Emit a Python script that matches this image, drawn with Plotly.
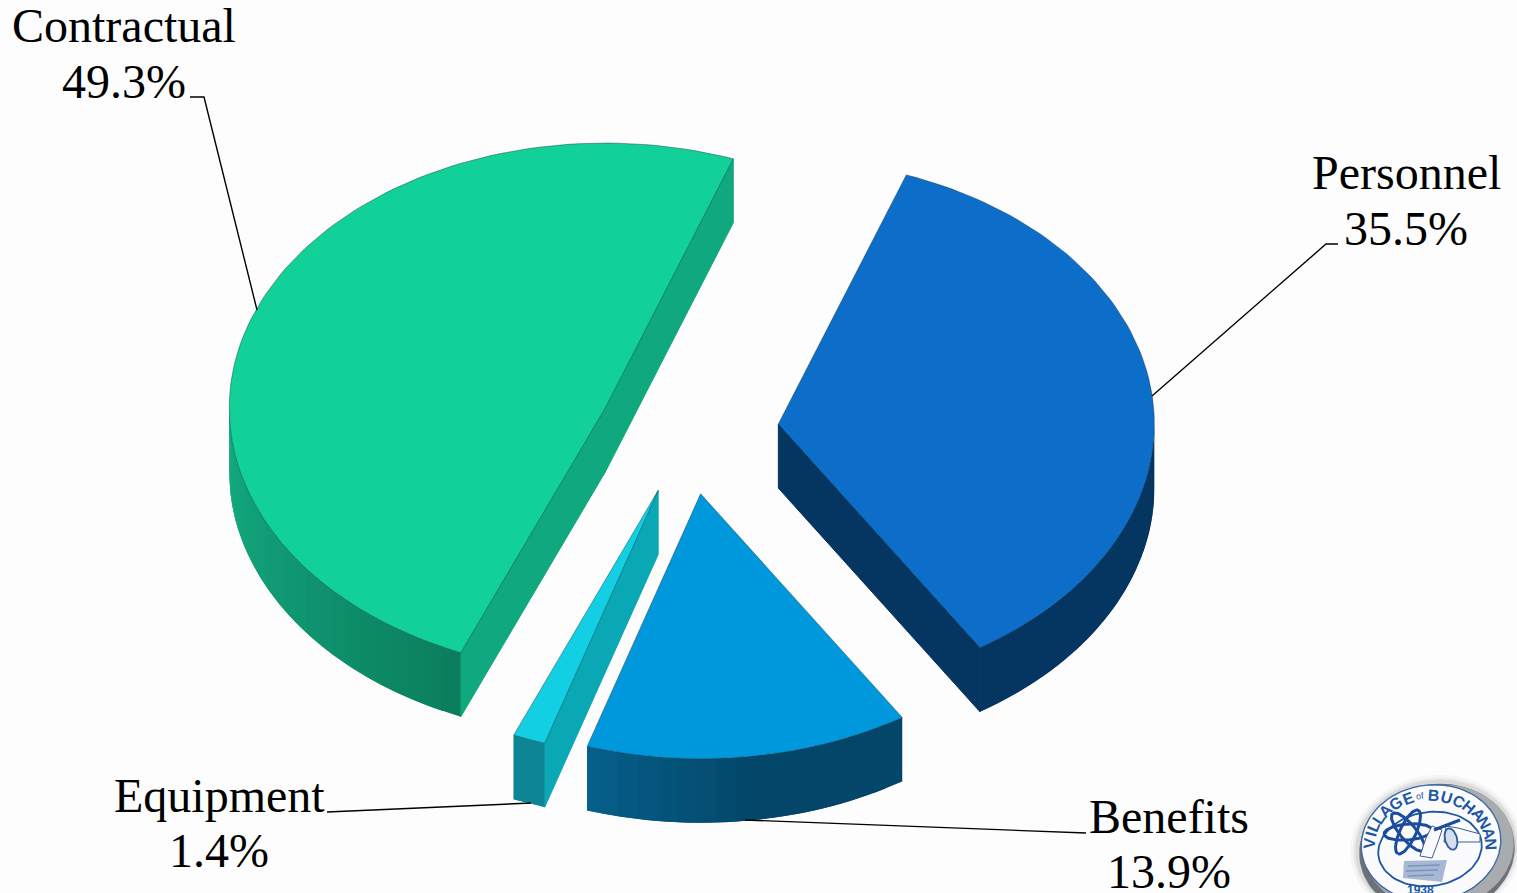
import math
import plotly.graph_objects as go

# Budget shares, clockwise from the first slice
labels = ["Personnel", "Benefits", "Equipment", "Contractual"]
values = [35.5, 13.9, 1.4, 49.3]

# Slice colours: top face, cut face, and wall shades as (angle, rgb) stops
top_colors = ["#0C6EC9", "#0098DC", "#13CFE3", "#11D199"]
cut_colors = ["#053662", "#03476B", "#0AA7B5", "#10A87E"]
wall_stops = [
    [(90, (5, 54, 98)), (148, (5, 54, 98))],
    [(147, (3, 70, 106)), (172, (3, 70, 106)), (198, (5, 96, 140))],
    [(197, (14, 133, 149)), (203, (14, 133, 149))],
    [(202, (11, 125, 92)), (235, (15, 150, 112)), (270, (20, 172, 128))],
]

# Label placement: text centre x, line centre y values, leader polyline
label_x = [1406, 1169, 219, 124]
label_y = [(172, 228), (816, 871), (795, 850), (25, 81)]
leaders = [
    ([1338, 1326, 1152], [244, 244, 396]),
    ([1086, 745], [833, 820]),
    ([327, 531], [812, 803]),
    ([190, 204, 257], [97, 97, 310]),
]

# Projection of the tilted pie onto the page
CX, CY = 689, 431
RX, RY = 376, 265
DEPTH = 64
EXPLODE = 0.239
START = 19.9
STEP = 1.5


def arc(cx, cy, a0, a1, dy=0.0):
    n = max(2, int(abs(a1 - a0) / STEP) + 1)
    angles = [a0 + (a1 - a0) * i / (n - 1) for i in range(n)]
    xs = [cx + RX * math.sin(math.radians(a)) for a in angles]
    ys = [cy - RY * math.cos(math.radians(a)) + dy for a in angles]
    return xs, ys


def shade(stops, a):
    if a <= stops[0][0]:
        return stops[0][1]
    for (a0, c0), (a1, c1) in zip(stops, stops[1:]):
        if a <= a1:
            t = (a - a0) / (a1 - a0)
            return tuple(c0[i] + (c1[i] - c0[i]) * t for i in range(3))
    return stops[-1][1]


def poly(xs, ys, fill, line=None, width=0.0):
    return go.Scatter(
        x=list(xs) + [xs[0]], y=list(ys) + [ys[0]],
        mode="lines", fill="toself", fillcolor=fill,
        line=dict(color=line or fill, width=width),
        hoverinfo="skip", showlegend=False,
    )


def stroke(xs, ys, color, width):
    return go.Scatter(x=xs, y=ys, mode="lines",
                      line=dict(color=color, width=width),
                      hoverinfo="skip", showlegend=False)


def ellipse(cx, cy, rx, ry, tilt=0.0, n=90):
    t = math.radians(tilt)
    xs, ys = [], []
    for i in range(n):
        p = 2 * math.pi * i / (n - 1)
        ex, ey = rx * math.cos(p), ry * math.sin(p)
        xs.append(cx + ex * math.cos(t) - ey * math.sin(t))
        ys.append(cy + ex * math.sin(t) + ey * math.cos(t))
    return xs, ys


fig = go.Figure()
total = sum(values)
angle = START
draw_order = [3, 0, 2, 1]
spans = []
for v in values:
    sweep = 360 * v / total
    spans.append((angle, angle + sweep))
    angle += sweep

for i in draw_order:
    a0, a1 = spans[i]
    mid = math.radians((a0 + a1) / 2)
    cx = CX + EXPLODE * RX * math.sin(mid)
    cy = CY - EXPLODE * RY * math.cos(mid)

    # Cut faces that turn towards the viewer
    for edge, normal in ((a0, a0 - 90), (a1, a1 + 90)):
        if math.cos(math.radians(normal)) < 0:
            ex = cx + RX * math.sin(math.radians(edge))
            ey = cy - RY * math.cos(math.radians(edge))
            fig.add_trace(poly([cx, ex, ex, cx],
                               [cy, ey, ey + DEPTH, cy + DEPTH],
                               cut_colors[i], cut_colors[i], 1.0))

    # Outer wall: overlapping strips carry the shading without seams
    w0, w1 = max(a0, 90), min(a1, 270)
    a = w0
    while a < w1:
        b = min(a + 3.0, w1)
        end = min(b + 3.0, w1)
        xs, ys = arc(cx, cy, a, end)
        _, ys2 = arc(cx, cy, a, end, DEPTH)
        r, g, bl = shade(wall_stops[i], (a + b) / 2)
        col = f"rgb({r:.0f},{g:.0f},{bl:.0f})"
        fig.add_trace(poly(xs + xs[::-1], ys + ys2[::-1], col))
        a = b

    # Top face
    xs, ys = arc(cx, cy, a0, a1)
    fig.add_trace(poly([cx] + xs, [cy] + ys, top_colors[i],
                       "rgba(15,50,70,0.55)", 0.8))

# Leader lines and two-line labels
for lx, ly in leaders:
    fig.add_trace(stroke(lx, ly, "#000000", 1.4))

annotations = []
for name, v, x, (y1, y2) in zip(labels, values, label_x, label_y):
    for text, y in ((name, y1), (f"{v}%", y2)):
        annotations.append(dict(
            x=x, y=y, xref="x", yref="y", text=text, showarrow=False,
            xanchor="center", yanchor="middle",
            font=dict(family="Liberation Serif", size=48, color="#000000"),
        ))

# Village seal in the lower right corner
SEAL_BLUE = "#1C57A5"
for grow, alpha in ((8, 0.05), (5, 0.07), (3, 0.10)):
    fig.add_trace(poly(*ellipse(1436, 848, 78 + grow, 65 + grow, -8),
                       f"rgba(90,90,90,{alpha})"))
fig.add_trace(poly(*ellipse(1437, 850, 78, 66, -8), "#6E7276"))
fig.add_trace(poly(*ellipse(1439, 847, 75, 62, -8), "#A9ACAF"))
fig.add_trace(poly(*ellipse(1431, 843, 70, 58, -8), "#FBFBFD", "#3F6BA8", 1.4))
fig.add_trace(stroke(*ellipse(1430, 849, 52, 37, -8), SEAL_BLUE, 1.8))

# Atom orbits
for tilt in (-5, 50, 115):
    xs, ys = ellipse(1408, 832, 24, 8, tilt)
    fig.add_trace(stroke(xs, ys, "#1B4C9C", 3.0))

# Arm, fist and raised forearm holding the atom
arm_x = [1480, 1458, 1446, 1444, 1450, 1480]
arm_y = [834, 828, 826, 842, 842, 842]
fig.add_trace(poly(arm_x, arm_y, "#FBFBFD", "#3A5F8F", 1.0))
fore_x = [1420, 1426, 1432, 1442, 1438, 1432]
fore_y = [856, 838, 826, 830, 842, 858]
fig.add_trace(poly(fore_x, fore_y, "#FBFBFD", "#3A5F8F", 1.0))
fig.add_trace(poly(*ellipse(1451, 839, 6, 11, -15), "#D5DEEC", "#2C5A9E", 1.8))
fig.add_trace(stroke([1434, 1444, 1460], [830, 826, 820], "#1B4C9C", 3.0))

# Landscape panel under the arm
fig.add_trace(poly([1404, 1447, 1442, 1403], [861, 860, 882, 878],
                   "rgba(150,172,205,0.85)"))
for y_row, x0, x1 in ((866, 1408, 1440), (871, 1406, 1438), (876, 1408, 1434)):
    fig.add_trace(stroke([x0, x1], [y_row, y_row - 1],
                         "rgba(70,100,160,0.45)", 1.5))


def rim_letter(ch, a, size):
    r = math.radians(a)
    return dict(
        x=1430 + 61 * math.sin(r), y=847 - 52 * math.cos(r), xref="x", yref="y",
        text=ch, showarrow=False, textangle=a,
        font=dict(family="Liberation Sans", size=size, color=SEAL_BLUE),
    )


# Lettering around the rim
for ch, a in zip("VILLAGE", (-86, -76, -67, -57, -46, -34, -21)):
    annotations.append(rim_letter(f"<b>{ch}</b>", a, 16))
annotations.append(rim_letter("of", -9, 9))
for ch, a in zip("BUCHANAN", (4, 16, 28, 40, 52, 63, 75, 87)):
    annotations.append(rim_letter(f"<b>{ch}</b>", a, 16))
annotations.append(dict(
    x=1420, y=890, xref="x", yref="y", text="<b>1938</b>", showarrow=False,
    font=dict(family="Liberation Sans", size=12, color=SEAL_BLUE),
))

fig.update_layout(
    width=1517, height=893, autosize=False,
    margin=dict(l=0, r=0, t=0, b=0),
    paper_bgcolor="#FDFDFD", plot_bgcolor="#FDFDFD",
    xaxis=dict(range=[0, 1517], visible=False, fixedrange=True),
    yaxis=dict(range=[893, 0], visible=False, fixedrange=True),
    showlegend=False, annotations=annotations,
)

fig.write_html("out.html", config=dict(displayModeBar=False))
